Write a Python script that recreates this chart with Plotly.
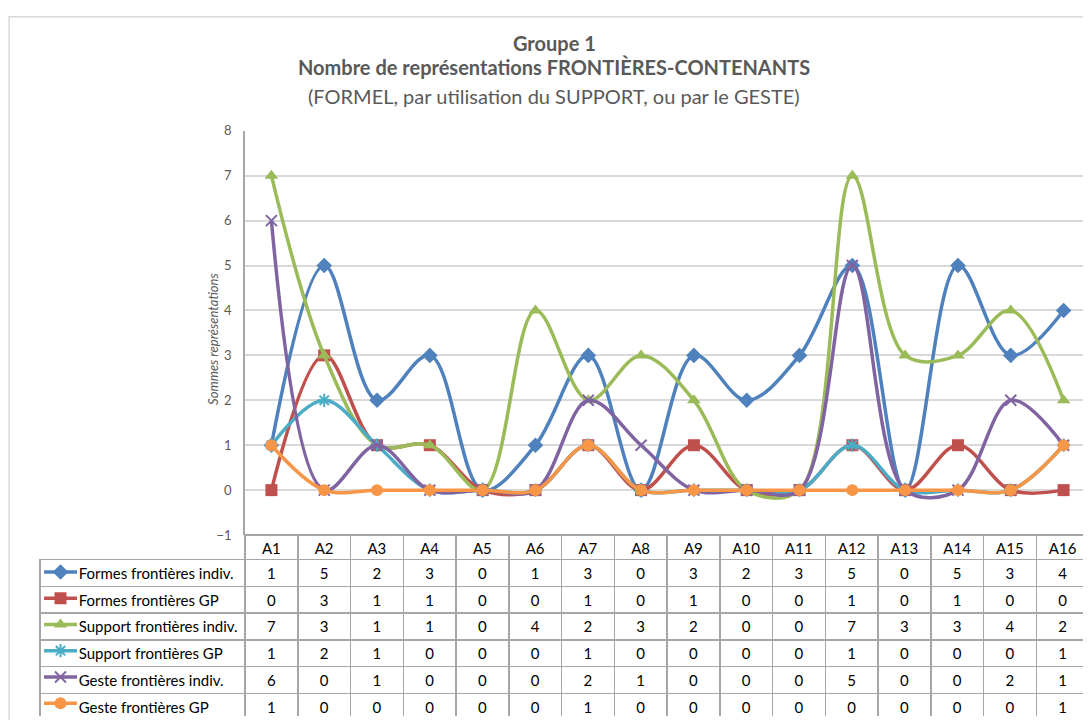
import plotly.graph_objects as go

categories = ["A1", "A2", "A3", "A4", "A5", "A6", "A7", "A8",
              "A9", "A10", "A11", "A12", "A13", "A14", "A15", "A16"]

formes_indiv = [1, 5, 2, 3, 0, 1, 3, 0, 3, 2, 3, 5, 0, 5, 3, 4]
formes_gp = [0, 3, 1, 1, 0, 0, 1, 0, 1, 0, 0, 1, 0, 1, 0, 0]
support_indiv = [7, 3, 1, 1, 0, 4, 2, 3, 2, 0, 0, 7, 3, 3, 4, 2]
support_gp = [1, 2, 1, 0, 0, 0, 1, 0, 0, 0, 0, 1, 0, 0, 0, 1]
geste_indiv = [6, 0, 1, 0, 0, 0, 2, 1, 0, 0, 0, 5, 0, 0, 2, 1]
geste_gp = [1, 0, 0, 0, 0, 0, 1, 0, 0, 0, 0, 0, 0, 0, 0, 1]

series = [
    ("Formes frontières indiv.", formes_indiv, "#4f81bd", "diamond", 12),
    ("Formes frontières GP", formes_gp, "#c0504d", "square", 12),
    ("Support frontières indiv.", support_indiv, "#9bbb59", "triangle-up", 12),
    ("Support frontières GP", support_gp, "#4bacc6", "asterisk-open", 11),
    ("Geste frontières indiv.", geste_indiv, "#8064a2", "x-thin-open", 11),
    ("Geste frontières GP", geste_gp, "#f79646", "circle", 12),
]

W, H = 1091, 720
FONT = "Lato"
GREY = "#595959"
NBSP = "\u00a0"
# the page puts the figure a little off the window corner; these map
# reference pixel positions to paper fractions
DX, DY, SY = 9, 16, 0.982


def px(x):
    return (x - DX) / W


def py(y):
    return 1 - (y / SY - DY) / H


fig = go.Figure()

# main smoothed lines
for name, vals, color, sym, size in series:
    open_sym = sym.endswith("open")
    fig.add_trace(go.Scatter(
        x=categories, y=vals, name=name, mode="lines+markers",
        line=dict(color=color, width=3.5, shape="spline", smoothing=1.0),
        marker=dict(symbol=sym, size=size, color=color,
                    line=dict(color=color, width=2 if open_sym else 0)),
        showlegend=False, xaxis="x", yaxis="y",
    ))

# legend keys drawn in the first table column
for i, (name, vals, color, sym, size) in enumerate(series):
    open_sym = sym.endswith("open")
    fig.add_trace(go.Scatter(
        x=[0, 1], y=[i, i], mode="lines", line=dict(color=color, width=3.5),
        showlegend=False, hoverinfo="skip", xaxis="x2", yaxis="y2",
    ))
    fig.add_trace(go.Scatter(
        x=[0.5], y=[i], mode="markers",
        marker=dict(symbol=sym, size=size, color=color,
                    line=dict(color=color, width=2 if open_sym else 0)),
        showlegend=False, hoverinfo="skip", xaxis="x2", yaxis="y2",
    ))

# data table (non-breaking spaces keep each label on one line)
label_col = [NBSP * 8 + s[0].replace(" ", NBSP) for s in series]
value_cols = [[s[1][j] for s in series] for j in range(len(categories))]
fig.add_trace(go.Table(
    domain=dict(x=[px(41), px(1090)], y=[py(719), py(537)]),
    columnwidth=[205] + [52.75] * len(categories),
    header=dict(
        values=[""] + categories, height=24 / SY,
        align="center",
        font=dict(family=FONT, size=15, color="#000000"),
        fill=dict(color=["rgba(0,0,0,0)"] + ["white"] * len(categories)),
        line=dict(color=["rgba(0,0,0,0)"] + ["#a6a6a6"] * len(categories), width=1.5),
    ),
    cells=dict(
        values=[label_col] + value_cols, height=26.3 / SY,
        align=["left"] + ["center"] * len(categories),
        font=dict(family=FONT, size=15, color="#000000"),
        fill=dict(color=["rgba(0,0,0,0)"] + ["white"] * len(categories)),
        line=dict(color="#a6a6a6", width=1.5),
    ),
))

title_font = dict(family=FONT, size=20, color=GREY)

fig.update_layout(
    width=W, height=H,
    margin=dict(l=0, r=0, t=0, b=0),
    paper_bgcolor="white", plot_bgcolor="white",
    font=dict(family=FONT, color=GREY),
    xaxis=dict(domain=[px(246), px(1091)], range=[-0.5, 15.5], type="category",
               showticklabels=False, showgrid=False, zeroline=False,
               showline=False, fixedrange=True),
    yaxis=dict(domain=[py(537), py(131)], range=[-1, 8], dtick=1,
               showgrid=True, gridcolor="#d9d9d9", gridwidth=1.5,
               zeroline=False, showline=True, linecolor="#a6a6a6", linewidth=1.5,
               tickfont=dict(family=FONT, size=13, color=GREY),
               ticks="", ticklabelstandoff=9),
    xaxis2=dict(domain=[px(45), px(78)], range=[0, 1], visible=False,
                fixedrange=True),
    yaxis2=dict(domain=[py(719), py(561)], range=[5.5, -0.5], visible=False,
                fixedrange=True, anchor="x2"),
    shapes=[dict(type="rect", xref="paper", yref="paper",
                 x0=0.001, x1=1.02, y0=-0.02, y1=0.999,
                 line=dict(color="#d9d9d9", width=1.5), layer="below")],
    annotations=[
        dict(text="<b>Groupe 1</b>", x=px(555), y=py(43),
             xanchor="center", yanchor="middle", font=title_font),
        dict(text="<b>Nombre de représentations FRONTIÈRES-CONTENANTS</b>",
             x=px(555), y=py(67), xanchor="center", yanchor="middle",
             font=title_font),
        dict(text="(FORMEL, par utilisation du SUPPORT, ou par le GESTE)",
             x=px(555), y=py(96), xanchor="center", yanchor="middle",
             font=title_font),
        dict(text="Sommes représentations", textangle=-90,
             x=px(214), y=py(340), xanchor="center", yanchor="middle",
             font=dict(family=FONT, size=13, color=GREY, style="italic")),
    ],
)
fig.update_annotations(xref="paper", yref="paper", showarrow=False)

fig.write_html("out.html")
